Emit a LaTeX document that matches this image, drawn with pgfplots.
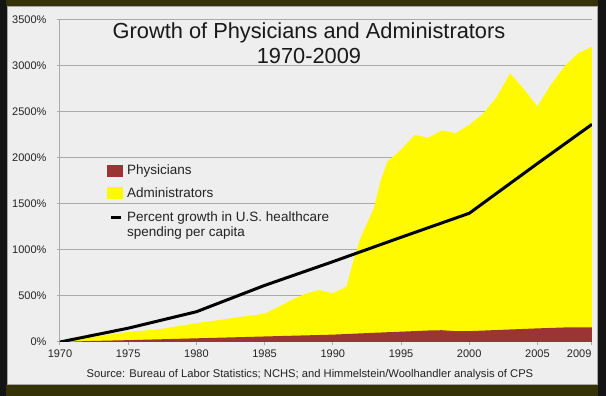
\documentclass[border=0pt]{standalone}
\usepackage{pgfplots}
\pgfplotsset{compat=1.18}
\usepackage{fontspec}
\setmainfont{Liberation Sans}
\definecolor{adminY}{RGB}{255,250,0}
\definecolor{physR}{RGB}{155,52,52}
\definecolor{panel}{RGB}{238,238,238}
\definecolor{gridc}{RGB}{170,170,170}
\definecolor{olive}{RGB}{52,50,6}
\definecolor{txt}{RGB}{35,35,35}
\begin{document}
\begin{tikzpicture}[x=1pt,y=1pt]
\useasboundingbox (0,0) rectangle (606,396);
\fill[black!92] (0,0) rectangle (606,396);
\fill[olive] (6,0) rectangle (598,11);
\fill[olive] (6,390) rectangle (598,396);
\fill[panel] (7,11) rectangle (598,390);
\draw[gray!70, line width=1pt] (7.5,11.5) rectangle (597.5,389.5);
\begin{axis}[
  scale only axis, width=532pt, height=322pt,
  at={(60pt,54pt)}, anchor=south west,
  xmin=1970, xmax=2009, ymin=0, ymax=3500,
  axis x line*=bottom, axis y line*=left,
  axis line style={gridc, line width=1pt},
  ymajorgrids, grid style={gridc, line width=1pt},
  xtick={1970,1975,1980,1985,1990,1995,2000,2005},
  xticklabels={1970,1975,1980,1985,1990,1995,2000,2005},
  extra x ticks={2009}, extra x tick labels={2009},
  extra x tick style={grid=none, xticklabel style={anchor=north east, xshift=3pt}},
  ytick={0,500,1000,1500,2000,2500,3000,3500},
  yticklabels={0\%,500\%,1000\%,1500\%,2000\%,2500\%,3000\%,3500\%},
  tick style={gridc, line width=1pt}, tick align=outside, major tick length=3pt,
  ticklabel style={font=\fontsize{11}{13}\selectfont, text=txt},
  yticklabel style={xshift=-7pt},
  xticklabel style={yshift=-1pt},
]
\addplot[fill=adminY, draw=none] coordinates {
(1970,0) (1971,22) (1972,45) (1973,68) (1974,90) (1975,110) (1976,122) (1977,135)
(1978,155) (1979,180) (1980,205) (1981,225) (1982,245) (1983,270) (1984,285)
(1985,310) (1986,380) (1987,460) (1988,525) (1989,565) (1990,530) (1991,600)
(1991.5,880) (1992,1120) (1993,1450) (1993.5,1750) (1994,1960) (1995,2090)
(1996,2250) (1997,2220) (1998,2300) (1999,2270) (2000,2360) (2001,2480)
(2002,2660) (2003,2920) (2004,2750) (2005,2560) (2006,2800) (2007,3000)
(2008,3140) (2009,3210) (2009,0)} \closedcycle;
\addplot[fill=physR, draw=none] coordinates {
(1970,0) (1972,10) (1975,20) (1980,40) (1985,60) (1990,80) (1993,100) (1995,112)
(1997,125) (1998,128) (1999,118) (2000,118) (2002,130) (2005,148) (2007,158)
(2009,160) (2009,0)} \closedcycle;
\addplot[black, line width=3pt] coordinates {
(1970,0) (1975,150) (1980,329) (1985,615) (1990,873) (1995,1138) (2000,1399)
(2005,1940) (2009,2366)};
\end{axis}
% title and source
\node[font=\fontsize{21.8}{24}\selectfont, text=black!90] at (309,363) {Growth of Physicians and Administrators};
\node[font=\fontsize{21.8}{24}\selectfont, text=black!90] at (309,340) {1970-2009};
\node[font=\fontsize{11.2}{13}\selectfont, text=txt] at (310,21) {Source: Bureau of Labor Statistics; NCHS; and Himmelstein/Woolhandler analysis of CPS};
% legend
\fill[physR] (107,219) rectangle (123,231);
\fill[adminY] (107,197) rectangle (123,209);
\draw[black, line width=3pt] (111,178) -- (121,178);
\begin{scope}[every node/.style={font=\fontsize{13.5}{15}\selectfont, text=txt, anchor=west, inner sep=0pt}]
\node at (127,225) {Physicians};
\node at (127,203) {Administrators};
\node at (127,178) {Percent growth in U.S. healthcare};
\node at (127,163) {spending per capita};
\end{scope}
\end{tikzpicture}
\end{document}
